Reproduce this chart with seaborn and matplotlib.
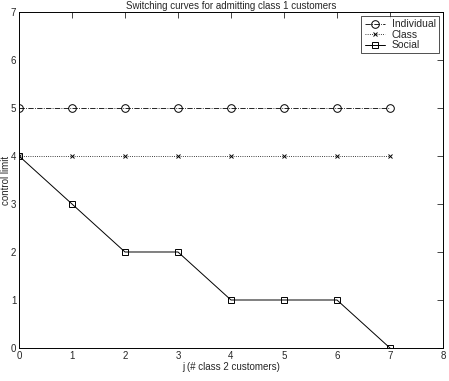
import matplotlib
matplotlib.use("Agg")
import matplotlib.pyplot as plt
import seaborn as sns
import pandas as pd

j = [0, 1, 2, 3, 4, 5, 6, 7]
individual = [5, 5, 5, 5, 5, 5, 5, 5]
class_lim = [4, 4, 4, 4, 4, 4, 4, 4]
social = [4, 3, 2, 2, 1, 1, 1, 0]

sns.set_style("white")
plt.rcParams['font.family'] = ['Liberation Sans', 'DejaVu Sans']
plt.rcParams['font.size'] = 7

fig = plt.figure(figsize=(4.49, 3.81), dpi=100)
ax = fig.add_axes([0.0423, 0.0866, 0.9443, 0.882])

df = pd.DataFrame({"j": j, "Individual": individual, "Class": class_lim, "Social": social})

sns.lineplot(data=df, x="j", y="Individual", ax=ax, color="black", linestyle="-.", lw=0.6,
             marker="o", markersize=5.5, markerfacecolor="none", markeredgecolor="black",
             markeredgewidth=0.7, label="Individual")
sns.lineplot(data=df, x="j", y="Class", ax=ax, color="black", linestyle=":", lw=0.6,
             marker="x", markersize=3.5, markeredgecolor="black", markeredgewidth=0.7, label="Class")
sns.lineplot(data=df, x="j", y="Social", ax=ax, color="black", linestyle="-", lw=0.7,
             marker="s", markersize=4.5, markerfacecolor="none", markeredgecolor="black",
             markeredgewidth=0.7, label="Social")

ax.set_xlim(0, 8)
ax.set_ylim(0, 7)
ax.set_xticks(range(0, 9))
ax.set_yticks(range(0, 8))
ax.tick_params(direction="in", top=True, right=True, length=4, width=0.6, labelsize=7, pad=2)
for s in ax.spines.values():
    s.set_visible(True)
    s.set_color("black")
    s.set_linewidth(0.7)
ax.set_xlabel("j (# class 2 customers)", fontsize=7, labelpad=1)
ax.set_ylabel("control limit", fontsize=7, labelpad=0)
ax.set_title("Switching curves for admitting class 1 customers", fontsize=7, pad=2)

leg = ax.legend(loc="upper right", fontsize=7.5, frameon=True, fancybox=False, edgecolor="black",
                handlelength=2.0, borderpad=0.3, labelspacing=0.05, handletextpad=0.6,
                borderaxespad=0.4)
leg.get_frame().set_linewidth(0.6)

fig.savefig("out.png", dpi=100)
